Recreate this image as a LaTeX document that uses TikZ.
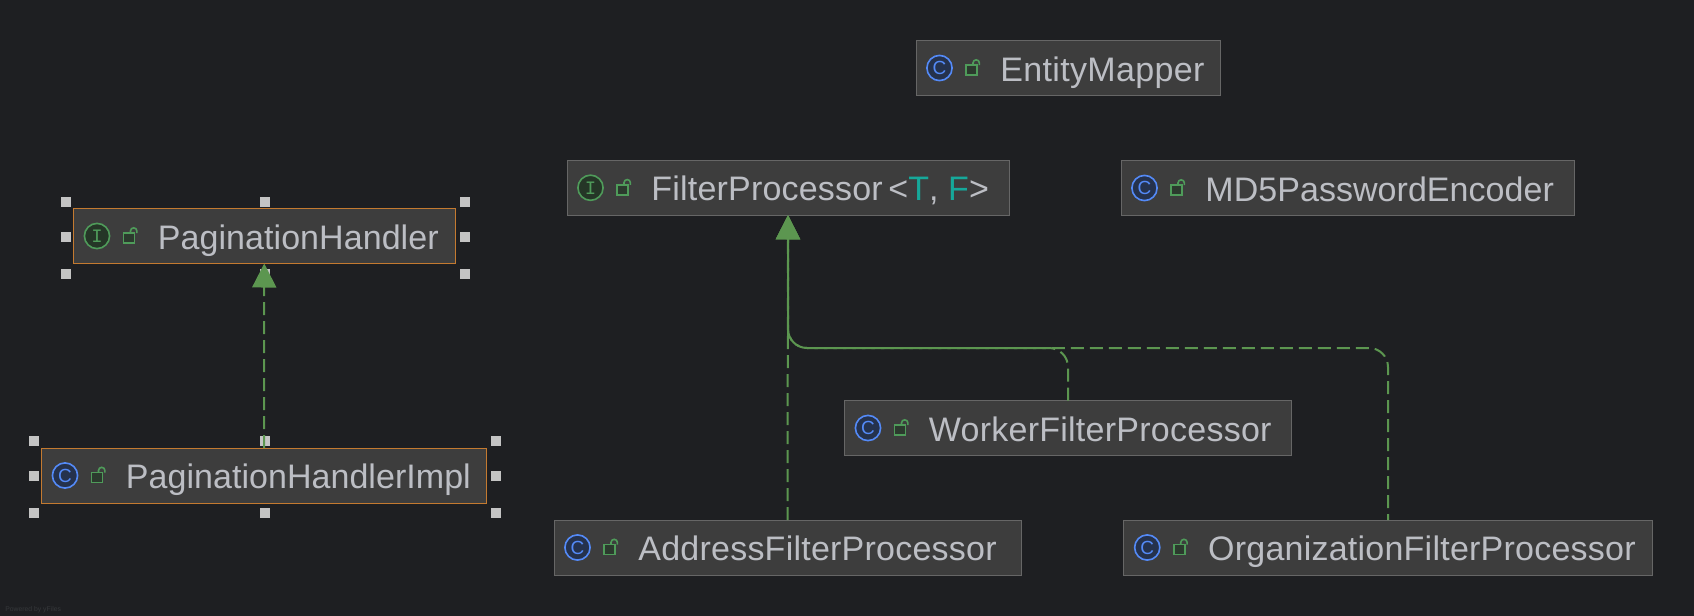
\documentclass[tikz,border=0pt]{standalone}
\usepackage{fontspec}
\setmainfont{Liberation Sans}
\newfontfamily\monoicon{Liberation Mono}
\usetikzlibrary{arrows.meta}
\definecolor{bgc}{HTML}{1E1F22}
\definecolor{boxfill}{HTML}{3D3D3D}
\definecolor{boxline}{HTML}{666666}
\definecolor{selline}{HTML}{C47A30}
\definecolor{labelc}{HTML}{BCBEC4}
\definecolor{tealc}{HTML}{16A89A}
\definecolor{edgec}{HTML}{5C9650}
\definecolor{ifill}{HTML}{253627}
\definecolor{iline}{HTML}{4F9B5A}
\definecolor{cfill}{HTML}{25324D}
\definecolor{cline}{HTML}{548AF7}
\definecolor{lockfill}{HTML}{2C3A2E}
\definecolor{handlec}{HTML}{C4C4C4}
\definecolor{yfc}{HTML}{36383B}
\tikzset{
  x=0.5pt,y=-0.5pt,
  classbox/.style={draw=boxline,fill=boxfill,line width=0.5pt,minimum height=27.5pt,inner sep=0pt,outer sep=0pt,rectangle},
  selbox/.style={classbox,draw=selline},
  classlabel/.style={anchor=base west,inner sep=0pt,text=labelc,font=\fontsize{17}{17}\selectfont},
  iconI/.style={circle,draw=iline,fill=ifill,line width=0.8pt,minimum size=12.6pt,inner sep=0pt,text=iline,font=\monoicon\fontsize{9.5}{9.5}\selectfont},
  iconC/.style={circle,draw=cline,fill=cfill,line width=0.8pt,minimum size=12.6pt,inner sep=0pt,text=cline,font=\fontsize{9.5}{9.5}\selectfont},
  lockbody/.style={draw=iline,fill=lockfill,line width=0.8pt},
  lockarc/.style={draw=iline,line width=0.8pt},
  handle/.style={fill=handlec,draw=none,minimum size=5pt,inner sep=0pt,outer sep=0pt,rectangle},
  realize/.style={draw=edgec,line width=1pt,dash pattern=on 6.5pt off 3pt,rounded corners=9.5pt,
    -{Triangle[length=12pt,width=12pt,fill=edgec]}},
}
\newcommand{\ls}[1]{\addfontfeature{LetterSpace=#1}}
% name, cx, cy, width, box style, icon style, icon letter, label
\newcommand{\classitem}[8]{%
  \node[#5,minimum width=#4*0.5pt] (#1) at (#2,#3) {};
  \node[#6] (#1icon) at ([xshift=11.75pt]#1.west) {#7};
  \begin{scope}[shift={(#1.west)}]
    \draw[lockarc] (57,-3) -- (57,-5) arc[start angle=180,end angle=0,x radius=3.2,y radius=-3.2] -- (63.4,-3);
    \draw[lockbody] (50,-3) rectangle (61,7);
  \end{scope}
  \node[classlabel] (#1label) at ([xshift=42pt,yshift=-6.5pt]#1.west) {#8};
}
% handles around a selected node
\newcommand{\handles}[1]{%
  \node[handle] (#1h1) at ([xshift=-3.75pt,yshift=3.5pt]#1.north west) {};
  \node[handle] (#1h2) at ([xshift=0.5pt,yshift=3.5pt]#1.north) {};
  \node[handle] (#1h3) at ([xshift=4.75pt,yshift=3.5pt]#1.north east) {};
  \node[handle] (#1h4) at ([xshift=-3.75pt,yshift=-0.4pt]#1.west) {};
  \node[handle] (#1h5) at ([xshift=4.75pt,yshift=-0.4pt]#1.east) {};
  \node[handle] (#1h6) at ([xshift=-3.75pt,yshift=-5pt]#1.south west) {};
  \node[handle] (#1h7) at ([xshift=0.5pt,yshift=-5pt]#1.south) {};
  \node[handle] (#1h8) at ([xshift=4.75pt,yshift=-5pt]#1.south east) {};
}
\begin{document}
\begin{tikzpicture}
\useasboundingbox (0,0) rectangle (1694,616);
\fill[bgc] (0,0) rectangle (1694,616);

\classitem{ph}{264.25}{236}{381.5}{selbox}{iconI}{I}{\ls{0.2}PaginationHandler}
\classitem{phi}{264}{475.5}{445}{selbox}{iconC}{C}{\ls{0.15}PaginationHandlerImpl}
\classitem{fp}{788}{187.75}{442}{classbox}{iconI}{I}{\ls{0.6}FilterProcessor\,<\textcolor{tealc}{T}, \textcolor{tealc}{F}>}
\classitem{em}{1068}{68}{304}{classbox}{iconC}{C}{\ls{1.0}EntityMapper}
\classitem{md}{1347.5}{188}{453}{classbox}{iconC}{C}{\ls{0.15}MD5PasswordEncoder}
\classitem{wf}{1068}{428}{447}{classbox}{iconC}{C}{\ls{0.75}WorkerFilterProcessor}
\classitem{af}{787.5}{547.5}{467}{classbox}{iconC}{C}{\ls{0.7}AddressFilterProcessor}
\classitem{of}{1388}{547.5}{528.5}{classbox}{iconC}{C}{\ls{0.7}OrganizationFilterProcessor}

\handles{ph}
\handles{phi}

\coordinate (bus) at (788,348);
\draw[realize] (phi.north) -- (ph.south);
\draw[realize] (af.north) -- (fp.south);
\draw[realize] (wf.north) |- (bus) -| (fp.south);
\draw[realize,dash phase=3.5pt] (of.north) |- (bus) -| (fp.south);

\node[anchor=base west,inner sep=0pt,text=yfc,font=\fontsize{3.4}{3.4}\selectfont] (yf) at (5,611) {Powered by yFiles};
\end{tikzpicture}
\end{document}
